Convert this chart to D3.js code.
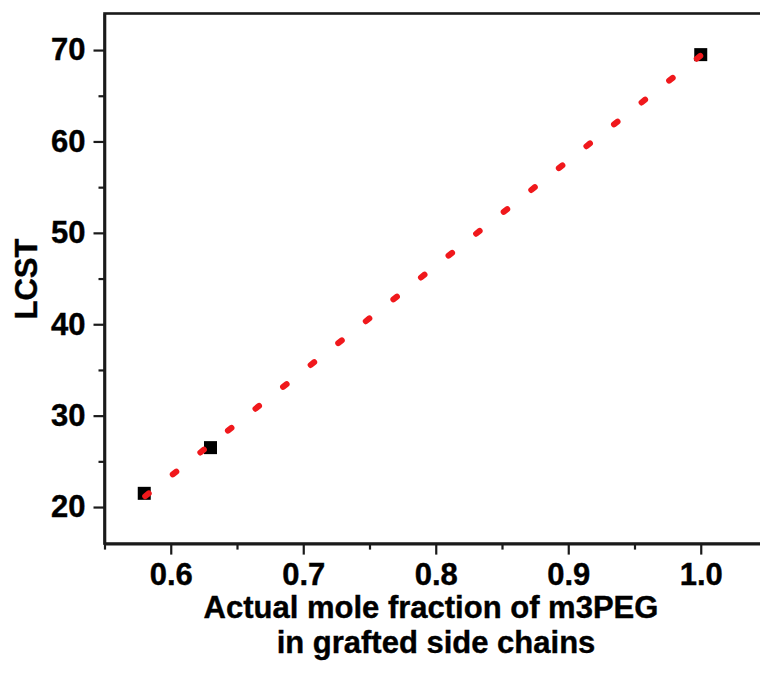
<!DOCTYPE html>
<html>
<head>
<meta charset="utf-8">
<script src="https://cdn.jsdelivr.net/npm/d3@7"></script>
<style>
  body { margin: 0; background: #fff; }
  svg { display: block; font-family: "Liberation Sans", Arial, sans-serif; }
</style>
</head>
<body>
<main></main>
<script>
// data
const moleFraction = [0.58, 0.63, 1.0];
const lcst = [21.5, 26.5, 69.5];
// linear fit (red dotted line), end points
const fitX = [0.58, 1.0];
const fitY = [21.1, 69.4];
const xTicks = [0.6, 0.7, 0.8, 0.9, 1.0];
const xMinorTicks = [0.55, 0.65, 0.75, 0.85, 0.95];
const yTicks = [20, 30, 40, 50, 60, 70];
const yMinorTicks = [25, 35, 45, 55, 65];

const width = 760;
const height = 673;
const plotLeft = 104.5;
const plotRight = 767;
const plotTop = 13.5;
const plotBottom = 543.6;
const ink = '#1a1a1a';

const svg = d3.select('main')
  .append('svg')
  .attr('width', width)
  .attr('height', height);

svg.append('rect')
  .attr('width', width)
  .attr('height', height)
  .attr('fill', '#fff');

const xScale = d3.scaleLinear().domain([0.55, 1.05]).range([plotLeft, plotRight]);
const yScale = d3.scaleLinear().domain([16, 74]).range([plotBottom, plotTop]);

// frame (top and right sides, right one falls off the picture)
svg.append('rect')
  .attr('x', plotLeft)
  .attr('y', plotTop)
  .attr('width', plotRight - plotLeft)
  .attr('height', plotBottom - plotTop)
  .attr('fill', 'none')
  .attr('stroke', ink)
  .attr('stroke-width', 2.6);

// minor ticks
svg.append('g')
  .attr('transform', `translate(0, ${plotBottom})`)
  .call(d3.axisBottom(xScale).tickValues(xMinorTicks).tickSize(6).tickSizeOuter(0).tickFormat(''))
  .call(g => g.select('.domain').remove())
  .selectAll('line').attr('stroke', ink).attr('stroke-width', 2.2);

svg.append('g')
  .attr('transform', `translate(${plotLeft}, 0)`)
  .call(d3.axisLeft(yScale).tickValues(yMinorTicks).tickSize(6).tickSizeOuter(0).tickFormat(''))
  .call(g => g.select('.domain').remove())
  .selectAll('line').attr('stroke', ink).attr('stroke-width', 2.2);

// major ticks + labels
const xAxis = svg.append('g')
  .attr('transform', `translate(0, ${plotBottom})`)
  .call(d3.axisBottom(xScale).tickValues(xTicks).tickSize(11).tickSizeOuter(0).tickPadding(8).tickFormat(d3.format('.1f')));
xAxis.select('.domain').attr('stroke', ink).attr('stroke-width', 2.6);
xAxis.selectAll('line').attr('stroke', ink).attr('stroke-width', 2.2);
xAxis.selectAll('text')
  .attr('fill', '#000')
  .attr('font-size', 31)
  .attr('font-weight', 'bold')
  .attr('stroke', '#000')
  .attr('stroke-width', 0.4)
  .attr('font-family', '"Liberation Sans", Arial, sans-serif');

const yAxis = svg.append('g')
  .attr('transform', `translate(${plotLeft}, 0)`)
  .call(d3.axisLeft(yScale).tickValues(yTicks).tickSize(11).tickSizeOuter(0).tickPadding(8));
yAxis.select('.domain').attr('stroke', ink).attr('stroke-width', 2.6);
yAxis.selectAll('line').attr('stroke', ink).attr('stroke-width', 2.2);
yAxis.selectAll('text')
  .attr('fill', '#000')
  .attr('font-size', 31)
  .attr('font-weight', 'bold')
  .attr('stroke', '#000')
  .attr('stroke-width', 0.4)
  .attr('font-family', '"Liberation Sans", Arial, sans-serif');

// data squares
const markerSize = 13;
svg.selectAll('rect.point')
  .data(moleFraction)
  .enter()
  .append('rect')
  .attr('class', 'point')
  .attr('x', (d) => xScale(d) - markerSize / 2)
  .attr('y', (d, i) => yScale(lcst[i]) - markerSize / 2)
  .attr('width', markerSize)
  .attr('height', markerSize)
  .attr('fill', '#000');

// red dotted fit line, on top of the squares
const fitLine = d3.line()
  .x((d) => xScale(d))
  .y((d, i) => yScale(fitY[i]));

svg.append('path')
  .datum(fitX)
  .attr('d', fitLine)
  .attr('fill', 'none')
  .attr('stroke', '#f0181c')
  .attr('stroke-width', 6)
  .attr('stroke-linecap', 'round')
  .attr('stroke-dasharray', '4.5,30.7')
  .attr('stroke-dashoffset', -1.2);

// axis titles
const titleStyle = (sel) => sel
  .attr('font-size', 31)
  .attr('font-weight', 'bold')
  .attr('fill', '#000')
  .attr('stroke', '#000')
  .attr('stroke-width', 0.4)
  .attr('text-anchor', 'middle');

svg.append('text')
  .text('LCST')
  .attr('transform', `translate(37, 279) rotate(-90)`)
  .call(titleStyle);

svg.append('text')
  .text('Actual mole fraction of m3PEG')
  .attr('x', 431)
  .attr('y', 618)
  .call(titleStyle);

svg.append('text')
  .text('in grafted side chains')
  .attr('x', 436)
  .attr('y', 653)
  .call(titleStyle);
</script>
</body>
</html>
